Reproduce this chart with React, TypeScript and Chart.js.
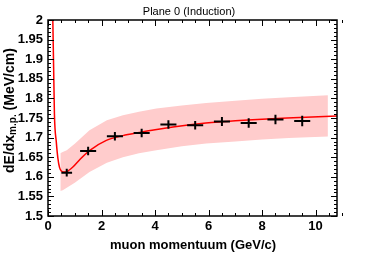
import React, { useEffect, useRef } from "react";
import { Chart, registerables } from "chart.js";

Chart.register(...registerables);

// ---- data ----
const titleText = "Plane 0 (Induction)";
const xTitle = "muon momentuum (GeV/c)";
const yTitleMain = "dE/dx";
const yTitleSub = "m.p.";
const yTitleUnit = " (MeV/cm)";

const momentum = [0.7, 1.5, 2.5, 3.5, 4.5, 5.5, 6.5, 7.5, 8.5, 9.5];
const momentumErr = [0.2, 0.3, 0.3, 0.3, 0.3, 0.3, 0.3, 0.3, 0.3, 0.3];
const dedx = [1.6105, 1.6657, 1.7033, 1.7118, 1.7333, 1.7315, 1.741, 1.7373, 1.746, 1.7425];
const dedxErr = [0.010, 0.011, 0.011, 0.011, 0.011, 0.011, 0.0115, 0.012, 0.012, 0.0135];

const curveP = [0.18, 0.21, 0.24, 0.31, 0.37, 0.43, 0.5, 0.6, 0.7, 0.93, 1.2, 1.55, 2.18, 2.8, 3.42, 4.0, 4.67, 5.9, 7.0, 8.0, 9.4, 10.8];
const curveV = [2.0, 1.88, 1.76, 1.689, 1.647, 1.624, 1.615, 1.612, 1.613, 1.625, 1.645, 1.667, 1.693, 1.705, 1.713, 1.72, 1.727, 1.737, 1.743, 1.747, 1.751, 1.755];

const bandP = [0.46, 0.55, 0.7, 1.0, 1.55, 2.2, 2.8, 3.4, 4.05, 5.0, 5.91, 7.0, 8.0, 9.0, 10.46];
const bandUpper = [1.660, 1.663, 1.668, 1.684, 1.719, 1.744, 1.757, 1.766, 1.774, 1.782, 1.788, 1.794, 1.799, 1.803, 1.808];
const bandLower = [1.564, 1.566, 1.572, 1.585, 1.612, 1.636, 1.650, 1.660, 1.668, 1.678, 1.685, 1.690, 1.695, 1.699, 1.703];

const xMin = 0, xMax = 10.8, xMajor = 2, xMinor = 0.5;
const yMin = 1.5, yMax = 2.0, yMajor = 0.05, yMinor = 0.01;

const FONT = "'Liberation Sans', Arial, Helvetica, sans-serif";

const decorPlugin = {
  id: "decor",
  afterDatasetsDraw(chart: any) {
    const ctx = chart.ctx;
    const xs = chart.scales.x;
    const ys = chart.scales.y;
    // error bars
    ctx.save();
    ctx.strokeStyle = "#000";
    ctx.lineWidth = 2;
    ctx.beginPath();
    for (let i = 0; i < momentum.length; i++) {
      const cx = xs.getPixelForValue(momentum[i]);
      const cy = ys.getPixelForValue(dedx[i]);
      const x1 = xs.getPixelForValue(momentum[i] - momentumErr[i]);
      const x2 = xs.getPixelForValue(momentum[i] + momentumErr[i]);
      const y1 = ys.getPixelForValue(dedx[i] - dedxErr[i]);
      const y2 = ys.getPixelForValue(dedx[i] + dedxErr[i]);
      ctx.moveTo(x1, cy);
      ctx.lineTo(x2, cy);
      ctx.moveTo(cx, y1);
      ctx.lineTo(cx, y2);
    }
    ctx.stroke();
    ctx.restore();
  },
  afterDraw(chart: any) {
    const ctx = chart.ctx;
    const a = chart.chartArea;
    const xs = chart.scales.x;
    const ys = chart.scales.y;
    ctx.save();
    // ticks
    ctx.strokeStyle = "#000";
    ctx.lineWidth = 1;
    ctx.beginPath();
    const nx = Math.round((xMax - xMin) / xMinor);
    for (let k = 0; k <= nx; k++) {
      const v = xMin + k * xMinor;
      const major = Math.abs(v / xMajor - Math.round(v / xMajor)) < 1e-6;
      const len = major ? 6 : 3;
      const px = Math.round(xs.getPixelForValue(v)) + 0.5;
      ctx.moveTo(px, a.bottom);
      ctx.lineTo(px, a.bottom - len);
      ctx.moveTo(px, a.top);
      ctx.lineTo(px, a.top + len);
    }
    const ny = Math.round((yMax - yMin) / yMinor);
    for (let k = 0; k <= ny; k++) {
      const v = yMin + k * yMinor;
      const major = k % Math.round(yMajor / yMinor) === 0;
      const len = major ? 6 : 3;
      const py = Math.round(ys.getPixelForValue(v)) + 0.5;
      ctx.moveTo(a.left, py);
      ctx.lineTo(a.left + len, py);
      ctx.moveTo(a.right, py);
      ctx.lineTo(a.right - len, py);
    }
    ctx.stroke();
    // frame
    ctx.lineWidth = 1.5;
    ctx.strokeRect(a.left, a.top, a.right - a.left, a.bottom - a.top);

    // main title
    ctx.fillStyle = "#000";
    ctx.font = `11px ${FONT}`;
    ctx.textAlign = "center";
    ctx.textBaseline = "alphabetic";
    ctx.fillText(titleText, 189, 15);

    // x title
    ctx.font = `bold 13px ${FONT}`;
    ctx.fillText(xTitle, 193, 248.5);

    // y title (rotated, with subscript)
    ctx.translate(13.5, 173);
    ctx.rotate(-Math.PI / 2);
    ctx.textAlign = "left";
    ctx.font = `bold 14px ${FONT}`;
    ctx.fillText(yTitleMain, 0, 0);
    let off = ctx.measureText(yTitleMain).width;
    ctx.font = `bold 10px ${FONT}`;
    ctx.fillText(yTitleSub, off, 2.5);
    off += ctx.measureText(yTitleSub).width;
    ctx.font = `bold 14px ${FONT}`;
    ctx.fillText(yTitleUnit, off, 0);
    ctx.restore();
  },
};

export default function App() {
  const ref = useRef<HTMLCanvasElement | null>(null);
  useEffect(() => {
    if (!ref.current) return;
    const chart = new Chart(ref.current, {
      type: "scatter",
      data: {
        datasets: [
          {
            label: "band low",
            data: bandP.map((x, i) => ({ x, y: bandLower[i] })),
            showLine: true,
            borderColor: "rgba(0,0,0,0)",
            borderWidth: 0,
            pointRadius: 0,
            fill: false,
            order: 4,
          },
          {
            label: "band high",
            data: bandP.map((x, i) => ({ x, y: bandUpper[i] })),
            showLine: true,
            borderColor: "rgba(0,0,0,0)",
            borderWidth: 0,
            backgroundColor: "#ffcccc",
            pointRadius: 0,
            fill: "-1",
            order: 3,
          },
          {
            label: "fit",
            data: curveP.map((x, i) => ({ x, y: curveV[i] })),
            showLine: true,
            borderColor: "#ff0000",
            borderWidth: 1.5,
            pointRadius: 0,
            cubicInterpolationMode: "monotone",
            fill: false,
            order: 2,
          },
          {
            label: "data",
            data: momentum.map((x, i) => ({ x, y: dedx[i] })),
            showLine: false,
            pointRadius: 0,
            order: 1,
          },
        ],
      } as any,
      options: {
        animation: false,
        responsive: false,
        events: [],
        layout: { padding: { left: 0, right: 37, top: 20, bottom: 0 } },
        plugins: {
          legend: { display: false },
          tooltip: { enabled: false },
          title: { display: false },
        },
        scales: {
          x: {
            type: "linear",
            min: xMin,
            max: xMax,
            grid: { display: false, drawTicks: false },
            border: { display: false },
            ticks: {
              stepSize: xMajor,
              includeBounds: false,
              color: "#000",
              padding: 3,
              maxRotation: 0,
              font: { family: FONT, size: 13, weight: "bold" },
              callback: (v: any) => String(Number(Number(v).toFixed(2))),
            },
            afterFit: (s: any) => {
              s.height = 38;
            },
          },
          y: {
            type: "linear",
            min: yMin,
            max: yMax,
            grid: { display: false, drawTicks: false },
            border: { display: false },
            ticks: {
              stepSize: yMajor,
              color: "#000",
              padding: 5,
              font: { family: FONT, size: 13, weight: "bold" },
              callback: (v: any) => String(Number(Number(v).toFixed(2))),
            },
            afterFit: (s: any) => {
              s.width = 48;
            },
          },
        },
      } as any,
      plugins: [decorPlugin],
    });
    return () => chart.destroy();
  }, []);
  return (
    <div style={{ position: "fixed", left: 0, top: 0, width: 374, height: 254, background: "#fff" }}>
      <canvas ref={ref} width={374} height={254} style={{ width: 374, height: 254, display: "block" }} />
    </div>
  );
}
